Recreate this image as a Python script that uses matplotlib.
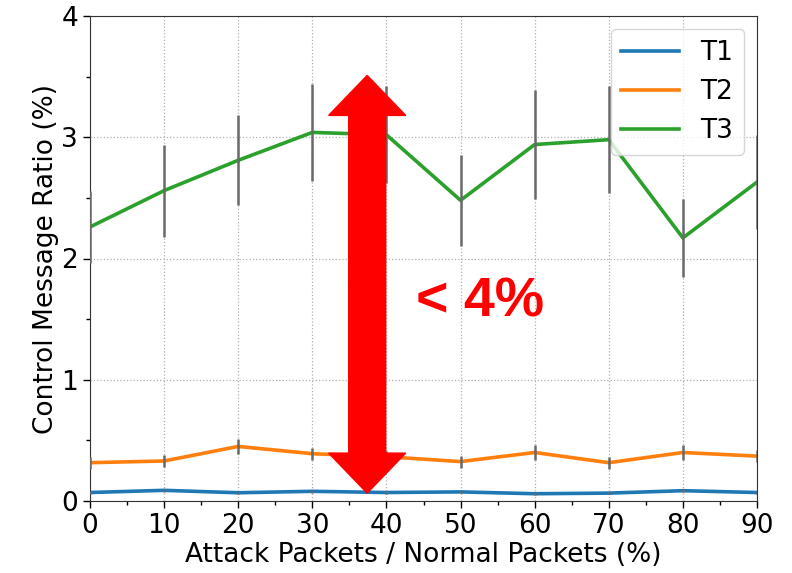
import matplotlib
matplotlib.use("Agg")
import matplotlib.pyplot as plt
from matplotlib.ticker import MultipleLocator

x = [0, 10, 20, 30, 40, 50, 60, 70, 80, 90]
t1 = [0.07, 0.088, 0.068, 0.08, 0.07, 0.075, 0.06, 0.065, 0.085, 0.07]
t1_err = [0.01, 0.01, 0.01, 0.01, 0.01, 0.01, 0.01, 0.01, 0.01, 0.01]
t2 = [0.316, 0.33, 0.45, 0.39, 0.365, 0.325, 0.40, 0.316, 0.40, 0.37]
t2_err = [0.05, 0.05, 0.06, 0.05, 0.05, 0.05, 0.06, 0.05, 0.06, 0.05]
t3 = [2.26, 2.56, 2.81, 3.04, 3.02, 2.48, 2.94, 2.98, 2.17, 2.63]
t3_err = [0.3, 0.38, 0.37, 0.4, 0.4, 0.375, 0.45, 0.44, 0.32, 0.39]

labels = ["T1", "T2", "T3"]
colors = ["#1f77b4", "#ff7f0e", "#2ca02c"]

arrow_x = 37.4
arrow_bottom = 0.065
arrow_top = 3.51
note_text = "< 4%"

fig = plt.figure(figsize=(7.92, 5.73), dpi=100)
ax = fig.add_axes([90 / 792, 1 - 501 / 573, (757 - 90) / 792, (501 - 16) / 573])

for y, e, c, lab in zip([t1, t2, t3], [t1_err, t2_err, t3_err], colors, labels):
    ax.plot(x, y, color=c, lw=2.6, label=lab, zorder=2)
    ax.errorbar(x, y, yerr=e, fmt="none", ecolor="dimgray", elinewidth=1.8,
                capsize=0, zorder=3)

ax.set_xlim(0, 90)
ax.set_ylim(0, 4)
ax.xaxis.set_major_locator(MultipleLocator(10))
ax.xaxis.set_minor_locator(MultipleLocator(5))
ax.yaxis.set_major_locator(MultipleLocator(1))
ax.yaxis.set_minor_locator(MultipleLocator(0.5))
ax.grid(True, which="major", linestyle=":", color="#b0b0b0", lw=0.9)
ax.tick_params(which="major", labelsize=19, length=5, width=1, direction="out")
ax.tick_params(which="minor", length=3, width=1, direction="out")
for s in ax.spines.values():
    s.set_color("0.2")
ax.set_xlabel("Attack Packets / Normal Packets (%)", fontsize=19, labelpad=2)
ax.set_ylabel("Control Message Ratio (%)", fontsize=19, labelpad=2)

leg = ax.legend(loc="upper right", fontsize=19, handlelength=2.2, framealpha=0.8,
                borderaxespad=0.5)

mid = (arrow_bottom + arrow_top) / 2
for end in (arrow_top, arrow_bottom):
    ax.arrow(arrow_x, mid, 0, end - mid, width=5.0, head_width=10.4,
             head_length=0.33, length_includes_head=True, fc="red", ec="red",
             lw=1, zorder=4)

ax.text(480 / 792, 1 - 303 / 573, note_text, transform=fig.transFigure,
        fontsize=40, color="red", fontweight="bold", family="Liberation Sans",
        ha="center", va="center", zorder=5)

fig.savefig("out.png", dpi=100)
